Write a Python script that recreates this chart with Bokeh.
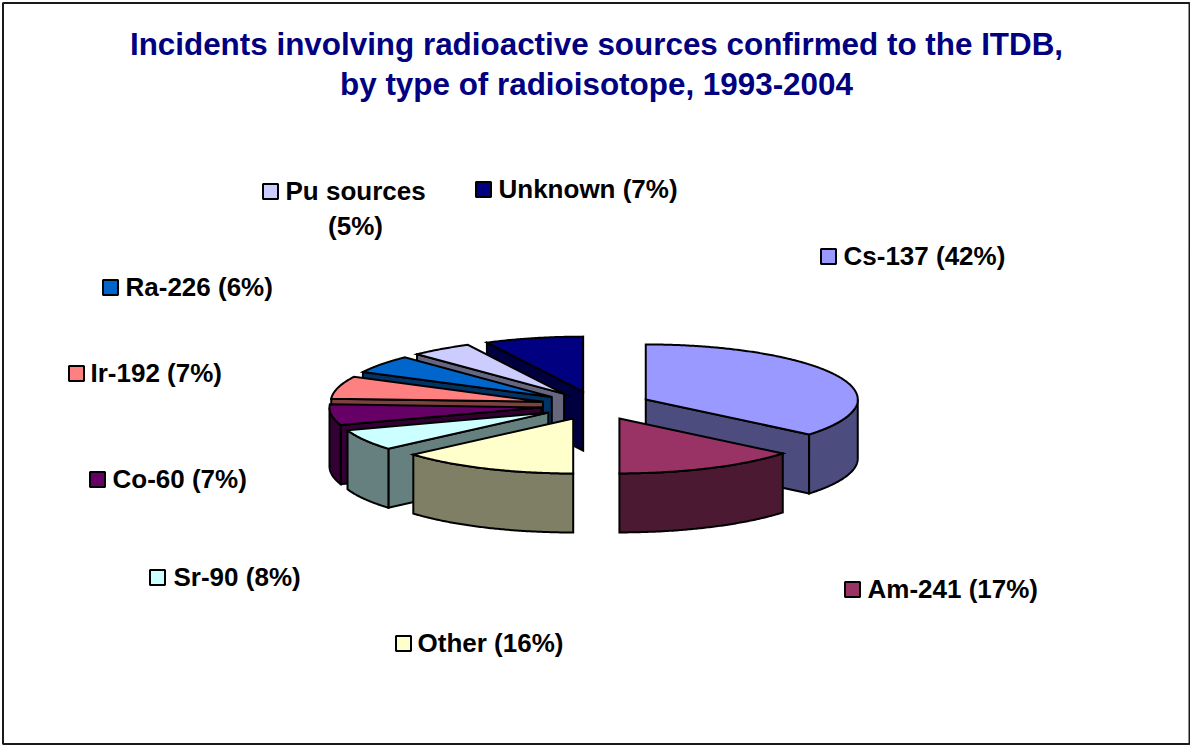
import math
from bokeh.plotting import figure
from bokeh.models import ColumnDataSource
from bokeh.embed import file_html
from bokeh.resources import INLINE
from bokeh.core.properties import value

# Slice order clockwise from 12 o'clock
names = ["Cs-137", "Am-241", "Other", "Sr-90", "Co-60", "Ir-192", "Ra-226", "Pu sources", "Unknown"]
# share of the drawn pie (percent of the full circle)
shares = [36.0, 14.0, 13.6, 6.2, 6.1, 6.6, 5.3, 4.7, 7.5]
colors = ["#9999FF", "#993366", "#FFFFCC", "#CCFFFF", "#660066", "#FF8080", "#0066CC", "#CCCCFF", "#000080"]
label_texts = ["Cs-137 (42%)", "Am-241 (17%)", "Other (16%)", "Sr-90 (8%)", "Co-60 (7%)",
               "Ir-192 (7%)", "Ra-226 (6%)", "Pu sources", "Unknown (7%)"]
title_lines = ["Incidents involving radioactive sources confirmed to the ITDB,",
               "by type of radioisotope, 1993-2004"]

W, H = 1190, 745
CX, CY, RX, RY, DEPTH, EXPLODE = 595.5, 405, 212, 55, 59, 55
# swatch centre and text start for each label
KEY_POS = [(828, 256), (852, 589), (403, 643), (157, 577), (97, 479), (76, 373), (110, 287), (270, 191), (483, 189)]
TEXT_X = [843, 867, 417, 173, 112, 90, 125, 285, 498]
DRAW_ORDER = [0, 1, 8, 7, 6, 5, 4, 3, 2]


def darker(c):
    r, g, b = (int(c[i:i + 2], 16) // 2 for i in (1, 3, 5))
    return f"#{r:02x}{g:02x}{b:02x}"


p = figure(width=W, height=H, x_range=(0, W), y_range=(H, 0), toolbar_location=None,
           output_backend="svg", min_border=0, outline_line_color=None,
           styles={"position": "absolute", "left": "0px", "top": "0px"})
p.xaxis.visible = False
p.yaxis.visible = False
p.grid.visible = False

# outer frame
p.quad(left=[2.5], right=[1189], top=[2.5], bottom=[743.5], fill_color="white",
       line_color="#1a1a1a", line_width=2)

# boundaries
bounds = [0.0]
for s in shares:
    bounds.append(bounds[-1] + s * 3.6)
total = bounds[-1]
bounds = [b * 360 / total for b in bounds]

xs, ys, fills = [], [], []


def add(px, py, fill):
    xs.append(px)
    ys.append(py)
    fills.append(fill)


for i in DRAW_ORDER:
    a1, a2 = bounds[i], bounds[i + 1]
    mid = math.radians((a1 + a2) / 2)
    ax = CX + EXPLODE * math.sin(mid)
    ay = CY - EXPLODE * RY / RX * math.cos(mid)

    def pt(deg):
        r = math.radians(deg)
        return ax + RX * math.sin(r), ay - RY * math.cos(r)

    wall = darker(colors[i])
    # radial wall facing the viewer
    for ang, show in ((a1, 180.01 < a1 < 359.99), (a2, 0.01 < a2 < 179.99)):
        if show:
            ex, ey = pt(ang)
            add([ax, ex, ex, ax], [ay, ey, ey + DEPTH, ay + DEPTH], wall)
    # outer rim wall: the arc lying on the front half
    lo, hi = max(a1, 90), min(a2, 270)
    if hi > lo:
        n = max(2, int(hi - lo) * 2)
        arc = [pt(lo + (hi - lo) * k / n) for k in range(n + 1)]
        add([q[0] for q in arc] + [q[0] for q in reversed(arc)],
            [q[1] for q in arc] + [q[1] + DEPTH for q in reversed(arc)], wall)
    # top face
    n = max(2, int(a2 - a1) * 2)
    arc = [pt(a1 + (a2 - a1) * k / n) for k in range(n + 1)]
    add([ax] + [q[0] for q in arc], [ay] + [q[1] for q in arc], colors[i])

p.patches("xs", "ys", source=ColumnDataSource(dict(xs=xs, ys=ys, fill=fills)),
          fill_color="fill", line_color="black", line_width=2, line_join="miter")

# legend-like labels
p.rect(x=[k[0] for k in KEY_POS], y=[k[1] for k in KEY_POS], width=15, height=15,
       fill_color=colors, line_color="black", line_width=2)
p.text(x=TEXT_X, y=[k[1] - 1 for k in KEY_POS], text=label_texts, text_font=value("Liberation Sans"),
       text_font_style="bold", text_font_size="26px", text_color="black",
       text_align="left", text_baseline="middle")
p.text(x=[355], y=[225], text=["(5%)"], text_font=value("Liberation Sans"),
       text_font_style="bold", text_font_size="26px", text_color="black",
       text_align="center", text_baseline="middle")

# title
p.text(x=[596, 596], y=[44, 84], text=title_lines, text_font=value("Liberation Sans"),
       text_font_style="bold", text_font_size="31.4px", text_color="#000080",
       text_align="center", text_baseline="middle")

open("out.html", "w").write(file_html(p, INLINE))
